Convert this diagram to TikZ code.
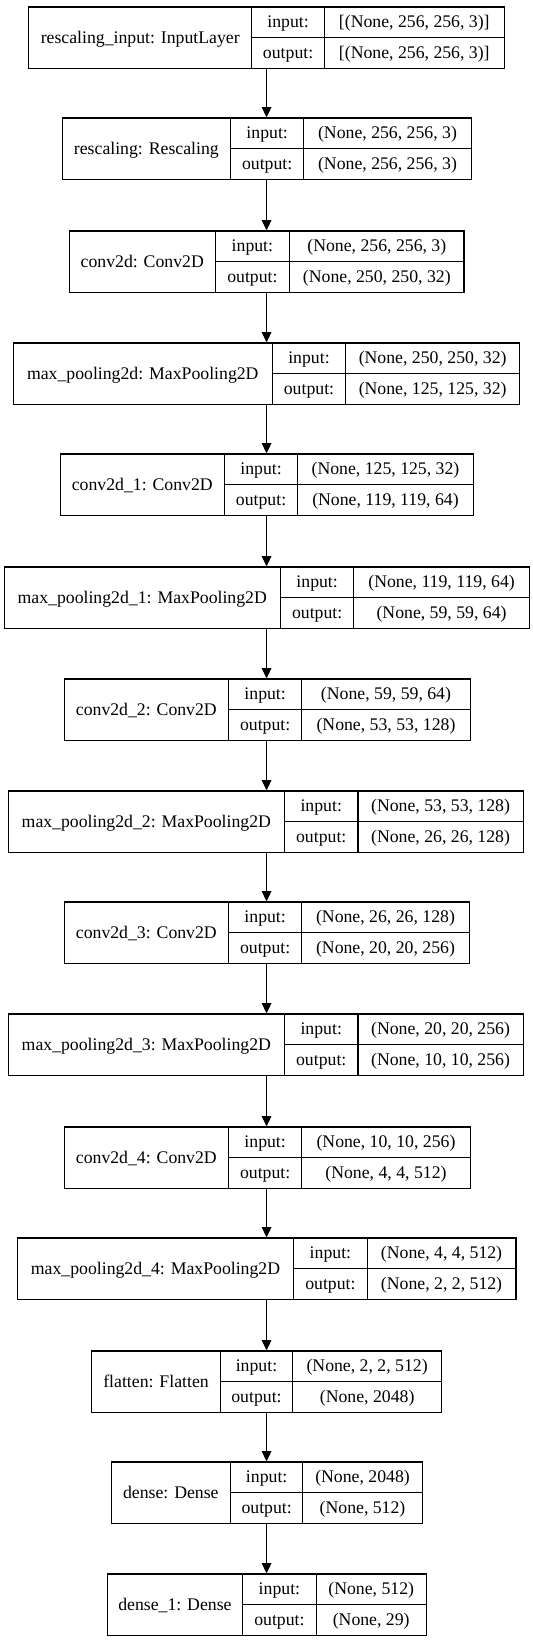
\documentclass[tikz,border=0pt]{standalone}
\usepackage{fontspec}
\setmainfont{Liberation Serif}
\usetikzlibrary{fit,arrows.meta}
\tikzset{
  layerbox/.style={draw=black, line width=0.85pt, inner sep=0pt},
  cellline/.style={draw=black, line width=0.85pt},
  celltext/.style={inner sep=0pt, anchor=base, font=\fontsize{13.3pt}{15pt}\selectfont},
  conn/.style={draw=black, line width=0.85pt, -{Triangle[length=7.8pt,width=7.2pt]}}
}
\newcommand\nnlayer[9]{%
  \coordinate (#1tl) at (#3,#2);
  \coordinate (#1br) at (#6,#2+61.5);
  \node[layerbox, fit=(#1tl)(#1br)] (#1) {};
  \draw[cellline] (#4,#2) -- (#4,#2+61.5);
  \draw[cellline] (#5,#2) -- (#5,#2+61.5);
  \draw[cellline] (#4,#2+30.75) -- (#6,#2+30.75);
  \node[celltext] (#1lab) at ({(#3+#4)/2},{#2+30.75+5.4}) {#7};
  \node[celltext] (#1ik) at ({(#4+#5)/2},{#2+15.4+5.4}) {input:};
  \node[celltext] (#1ok) at ({(#4+#5)/2},{#2+46.1+5.4}) {output:};
  \node[celltext] (#1iv) at ({(#5+#6)/2},{#2+15.4+5.4}) {#8};
  \node[celltext] (#1ov) at ({(#5+#6)/2},{#2+46.1+5.4}) {#9};
}
\begin{document}
\begin{tikzpicture}[x=0.76485pt,y=-0.75pt]
\useasboundingbox (0,0) rectangle (522.65,1643);
\fill[white] (0,0) rectangle (522.65,1643);
\nnlayer{b1}{7}{28}{247}{318}{494.5}{rescaling\_input: InputLayer}{[(None, 256, 256, 3)]}{[(None, 256, 256, 3)]}
\nnlayer{b2}{118}{61}{226}{298}{462}{rescaling: Rescaling}{(None, 256, 256, 3)}{(None, 256, 256, 3)}
\nnlayer{b3}{231}{68}{211}{284}{455}{conv2d: Conv2D}{(None, 256, 256, 3)}{(None, 250, 250, 32)}
\nnlayer{b4}{343}{13}{267}{339}{509.5}{max\_pooling2d: MaxPooling2D}{(None, 250, 250, 32)}{(None, 125, 125, 32)}
\nnlayer{b5}{454}{59}{220}{292}{464}{conv2d\_1: Conv2D}{(None, 125, 125, 32)}{(None, 119, 119, 64)}
\nnlayer{b6}{567}{4}{275}{347}{519}{max\_pooling2d\_1: MaxPooling2D}{(None, 119, 119, 64)}{(None, 59, 59, 64)}
\nnlayer{b7}{679}{63}{224}{296}{461}{conv2d\_2: Conv2D}{(None, 59, 59, 64)}{(None, 53, 53, 128)}
\nnlayer{b8}{791}{8}{279}{351}{513}{max\_pooling2d\_2: MaxPooling2D}{(None, 53, 53, 128)}{(None, 26, 26, 128)}
\nnlayer{b9}{902}{63}{224}{296}{460}{conv2d\_3: Conv2D}{(None, 26, 26, 128)}{(None, 20, 20, 256)}
\nnlayer{b10}{1014}{8}{279}{351}{513}{max\_pooling2d\_3: MaxPooling2D}{(None, 20, 20, 256)}{(None, 10, 10, 256)}
\nnlayer{b11}{1127}{63}{224}{296}{461}{conv2d\_4: Conv2D}{(None, 10, 10, 256)}{(None, 4, 4, 512)}
\nnlayer{b12}{1238}{17}{288}{360}{506}{max\_pooling2d\_4: MaxPooling2D}{(None, 4, 4, 512)}{(None, 2, 2, 512)}
\nnlayer{b13}{1351}{90}{216}{287}{433}{flatten: Flatten}{(None, 2, 2, 512)}{(None, 2048)}
\nnlayer{b14}{1462}{109}{226}{297}{414}{dense: Dense}{(None, 2048)}{(None, 512)}
\nnlayer{b15}{1574}{105}{238}{310}{418}{dense\_1: Dense}{(None, 512)}{(None, 29)}
\coordinate (ax) at (261.4,0);
\foreach \a/\b in {b1/b2,b2/b3,b3/b4,b4/b5,b5/b6,b6/b7,b7/b8,b8/b9,b9/b10,b10/b11,b11/b12,b12/b13,b13/b14,b14/b15}{
  \draw[conn] (\a.south -| ax) -- (\b.north -| ax);
}
\end{tikzpicture}
\end{document}
